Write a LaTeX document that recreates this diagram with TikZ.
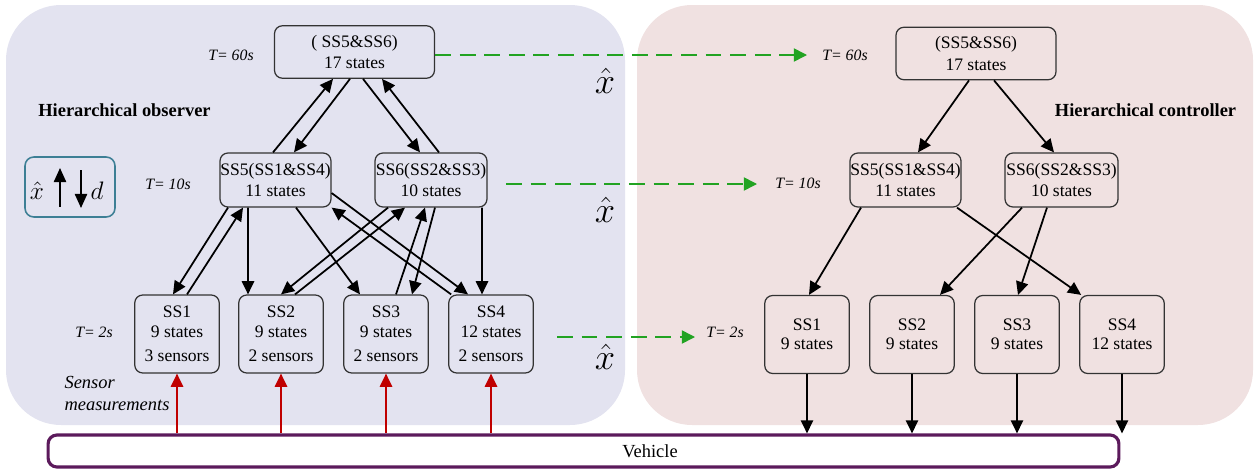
\documentclass[tikz,border=0pt]{standalone}
\usepackage{fontspec}
\setmainfont{Liberation Serif}
\usetikzlibrary{arrows.meta}
\definecolor{obsbg}{HTML}{E3E3F0}
\definecolor{ctlbg}{HTML}{F0E1E1}
\definecolor{vehline}{HTML}{5C1A5C}
\definecolor{dashgreen}{HTML}{22A322}
\definecolor{measred}{HTML}{C00000}
\definecolor{legline}{HTML}{3D7F95}

\begin{document}
\begin{tikzpicture}[x=0.02cm,y=-0.02cm,
  box/.style={draw=black!80, line width=0.7pt, rounded corners=4.5pt, align=center,
    inner sep=0pt, font=\fontsize{10}{12}\selectfont},
  midbox/.style={box, minimum width=2.22cm, minimum height=1.08cm},
  lowbox/.style={box, minimum width=1.69cm, minimum height=1.56cm},
  topbox/.style={box, minimum width=3.2cm, minimum height=1.05cm},
  tlab/.style={inner sep=0pt, font=\fontsize{9}{11}\selectfont\itshape},
  title/.style={inner sep=0pt, font=\fontsize{10.5}{12}\selectfont\bfseries},
  xhat/.style={inner sep=0pt, font=\fontsize{20}{22}\selectfont},
  arr/.style={line width=1pt, -{Triangle[length=7.5pt,width=7pt]}},
  redarr/.style={arr, draw=measred, -{Triangle[length=7.5pt,width=7pt,fill=measred]}},
  greenarr/.style={draw=dashgreen, line width=0.9pt, dash pattern=on 9pt off 5pt,
    -{Triangle[length=7.5pt,width=7.5pt,fill=dashgreen]}}
]
\useasboundingbox (0,0) rectangle (1256,470);

% panels
\fill[obsbg, rounded corners=1.1cm] (6,5) rectangle (625,425);
\fill[ctlbg, rounded corners=1.1cm] (637,5) rectangle (1253,425);

% vehicle
\node[draw=vehline, line width=1.8pt, rounded corners=5pt, fill=white,
  minimum width=21.42cm, minimum height=0.64cm, inner sep=0pt] (veh) at (583.5,451) {};
\node[inner sep=0pt, font=\fontsize{10.5}{12}\selectfont] (vehtext) at (650,451) {Vehicle};

% ---------- observer ----------
\node[topbox] (oTop) at (354.5,52) {( SS5\&SS6)\\17 states};
\node[midbox] (oSS5) at (275.5,180) {SS5(SS1\&SS4)\\11 states};
\node[midbox, minimum width=2.24cm] (oSS6) at (431,180) {SS6(SS2\&SS3)\\10 states};
\node[lowbox] (oSS1) at (177,334) {SS1\\[-1pt]9 states\\[2pt]3 sensors};
\node[lowbox] (oSS2) at (281,334) {SS2\\[-1pt]9 states\\[2pt]2 sensors};
\node[lowbox] (oSS3) at (386,334) {SS3\\[-1pt]9 states\\[2pt]2 sensors};
\node[lowbox] (oSS4) at (491,334) {SS4\\[-1pt]12 states\\[2pt]2 sensors};

\node[tlab] (oT60) at (231,55) {T= 60s};
\node[tlab] (oT10) at (168,184) {T= 10s};
\node[tlab] (oT2) at (94,332) {T= 2s};
\node[title] (oTitle) at (124.5,110) {Hierarchical observer};
\node[inner sep=0pt, align=left, font=\fontsize{10.5}{13}\selectfont\itshape] (meas)
  at (117,393.5) {Sensor\\measurements};

% legend
\node[draw=legline, line width=0.9pt, rounded corners=5pt, minimum width=1.8cm,
  minimum height=1.2cm, inner sep=0pt] (oLeg) at (70,187) {};
\node[inner sep=0pt, font=\fontsize{15}{16}\selectfont] (legx) at (37,191) {$\hat{x}$};
\node[inner sep=0pt, font=\fontsize{15}{16}\selectfont] (legd) at (97,191) {$d$};
\draw[line width=0.9pt, -{Triangle[length=8pt,width=7pt]}]
  ([xshift=-0.2cm,yshift=-0.4cm]oLeg.center) -- ([xshift=-0.2cm,yshift=0.38cm]oLeg.center);
\draw[line width=0.9pt, -{Triangle[length=8pt,width=7pt]}]
  ([xshift=0.22cm,yshift=0.34cm]oLeg.center) -- ([xshift=0.22cm,yshift=-0.42cm]oLeg.center);

% estimates passed on
\node[xhat] (xh1) at (605,81) {$\hat{x}$};
\node[xhat] (xh2) at (605,210) {$\hat{x}$};
\node[xhat] (xh3) at (605,357) {$\hat{x}$};

% observer links: top level
\draw[arr] ([xshift=-0.05cm]oSS5.north) -- ([xshift=-0.43cm]oTop.south);
\draw[arr] ([xshift=-0.09cm]oTop.south) -- ([xshift=0.37cm]oSS5.north);
\draw[arr] ([xshift=0.17cm]oTop.south) -- ([xshift=-0.22cm]oSS6.north);
\draw[arr] ([xshift=0.16cm]oSS6.north) -- ([xshift=0.55cm]oTop.south);

% observer links: middle to bottom
\draw[arr] ([xshift=-0.95cm]oSS5.south) -- ([xshift=-0.08cm]oSS1.north);
\draw[arr] ([xshift=0.2cm]oSS1.north) -- ([xshift=-0.65cm]oSS5.south);
\draw[arr] ([xshift=-0.55cm]oSS5.south) -- ([xshift=-0.66cm]oSS2.north);
\draw[arr] ([xshift=0.41cm]oSS5.south) -- ([xshift=-0.52cm]oSS3.north);
\draw[arr] ([yshift=-0.26cm]oSS5.east) -- ([xshift=-0.46cm]oSS4.north);
\draw[arr] ([xshift=0.06cm]oSS4.north west) -- (oSS5.south east);
\draw[arr] ([xshift=-0.86cm]oSS6.south) -- (oSS2.north);
\draw[arr] ([xshift=0.28cm]oSS2.north) -- ([xshift=-0.52cm]oSS6.south);
\draw[arr] ([xshift=0.2cm]oSS3.north) -- ([xshift=-0.12cm]oSS6.south);
\draw[arr] ([xshift=0.08cm]oSS6.south) -- ([xshift=0.52cm]oSS3.north);
\draw[arr] ([xshift=1.02cm]oSS6.south) -- ([xshift=-0.18cm]oSS4.north);

% sensor measurements
\foreach \n in {oSS1,oSS2,oSS3,oSS4}
  \draw[redarr] (\n.south |- veh.north) -- (\n.south);

% ---------- controller ----------
\node[topbox] (cTop) at (976,53.5) {(SS5\&SS6)\\17 states};
\node[midbox] (cSS5) at (905.5,180) {SS5(SS1\&SS4)\\11 states};
\node[midbox, minimum width=2.26cm] (cSS6) at (1061.5,180) {SS6(SS2\&SS3)\\10 states};
\node[lowbox] (cSS1) at (807,334.5) {SS1\\[-1pt]9 states};
\node[lowbox] (cSS2) at (912,334.5) {SS2\\[-1pt]9 states};
\node[lowbox] (cSS3) at (1017,334.5) {SS3\\[-1pt]9 states};
\node[lowbox] (cSS4) at (1122,334.5) {SS4\\[-1pt]12 states};

\node[tlab] (cT60) at (845,55) {T= 60s};
\node[tlab] (cT10) at (798,183) {T= 10s};
\node[tlab] (cT2) at (725,332) {T= 2s};
\node[title] (cTitle) at (1145.5,110) {Hierarchical controller};

\draw[arr] ([xshift=-0.14cm]cTop.south) -- ([xshift=0.25cm]cSS5.north);
\draw[arr] ([xshift=0.36cm]cTop.south) -- ([xshift=-0.15cm]cSS6.north);
\draw[arr] ([xshift=-0.89cm]cSS5.south) -- ([xshift=0.04cm]cSS1.north);
\draw[arr] ([xshift=1.03cm]cSS5.south) -- ([xshift=0.04cm]cSS4.north west);
\draw[arr] ([xshift=-0.79cm]cSS6.south) -- ([xshift=0.56cm]cSS2.north);
\draw[arr] ([xshift=-0.29cm]cSS6.south) -- ([xshift=0.02cm]cSS3.north);

\foreach \n in {cSS1,cSS2,cSS3,cSS4}
  \draw[arr] (\n.south) -- (\n.south |- veh.north);

% ---------- observer to controller ----------
\coordinate (g1e) at (807,55);
\coordinate (g2s) at (506,184);
\coordinate (g2e) at (757,184);
\coordinate (g3s) at (557,337);
\coordinate (g3e) at (695,337);
\draw[greenarr] (oTop.east |- g1e) -- (g1e);
\draw[greenarr] (g2s) -- (g2e);
\draw[greenarr] (g3s) -- (g3e);
\end{tikzpicture}
\end{document}
